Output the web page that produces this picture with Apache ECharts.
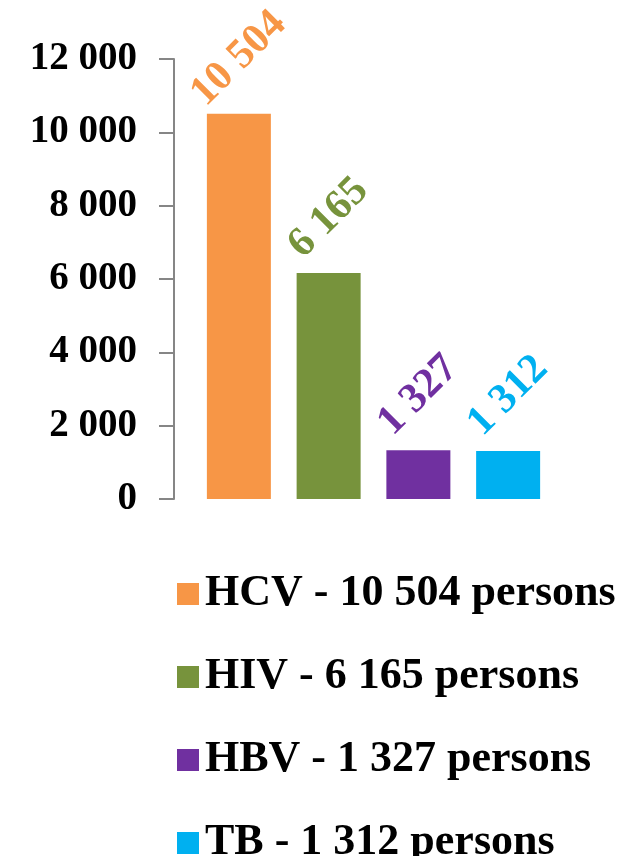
<!DOCTYPE html>
<html>
<head>
<meta charset="utf-8">
<script src="https://cdn.jsdelivr.net/npm/echarts@6/dist/echarts.min.js"></script>
<style>
html,body{margin:0;padding:0;background:#fff;}
#chart{width:621px;height:856px;}
</style>
</head>
<body>
<div id="chart"></div>
<script>
const categories = ['HCV', 'HIV', 'HBV', 'TB'];
const values = [10504, 6165, 1327, 1312];
const colors = ['#F79646', '#77933C', '#7030A0', '#00B0F0'];
const yTicks = [0, 2000, 4000, 6000, 8000, 10000, 12000];

function fmt(v) {
  return String(v).replace(/\B(?=(\d{3})+(?!\d))/g, ' ');
}

const legendNames = categories.map((c, i) => c + ' - ' + fmt(values[i]) + ' persons');

const series = categories.map((c, i) => ({
  name: legendNames[i],
  type: 'bar',
  stack: 'all',
  barWidth: 64,
  itemStyle: { color: colors[i] },
  data: categories.map((_, j) => (j === i ? values[i] : null)),
  label: {
    show: true,
    position: 'top',
    distance: 55,
    rotate: 45,
    align: 'center',
    verticalAlign: 'middle',
    color: colors[i],
    fontFamily: 'Liberation Serif',
    fontWeight: 'bold',
    fontSize: 42,
    formatter: p => (p.value == null ? '' : fmt(p.value))
  }
}));

const chart = echarts.init(document.getElementById('chart'));
chart.setOption({
  animation: false,
  backgroundColor: '#ffffff',
  grid: { left: 194, width: 359, top: 59, bottom: 357, containLabel: false },
  xAxis: {
    type: 'category',
    data: categories,
    axisLine: { show: false },
    axisTick: { show: false },
    axisLabel: { show: false }
  },
  yAxis: {
    type: 'value',
    min: yTicks[0],
    max: yTicks[yTicks.length - 1],
    interval: yTicks[1] - yTicks[0],
    offset: 20,
    splitLine: { show: false },
    axisLine: { show: true, lineStyle: { color: '#868686', width: 2 } },
    axisTick: { show: true, inside: false, length: 15, lineStyle: { color: '#868686', width: 2 } },
    axisLabel: {
      margin: 37,
      color: '#000',
      fontFamily: 'Liberation Serif',
      fontWeight: 'bold',
      fontSize: 39,
      formatter: v => fmt(v)
    }
  },
  legend: {
    orient: 'vertical',
    left: 177,
    top: 572,
    height: 320,
    padding: 0,
    itemWidth: 22,
    itemHeight: 22,
    itemGap: 39,
    icon: 'rect',
    data: legendNames,
    textStyle: {
      color: '#000',
      fontFamily: 'Liberation Serif',
      fontWeight: 'bold',
      fontSize: 44,
      padding: [0, 0, 0, 1]
    }
  },
  series: series
});
</script>
</body>
</html>
